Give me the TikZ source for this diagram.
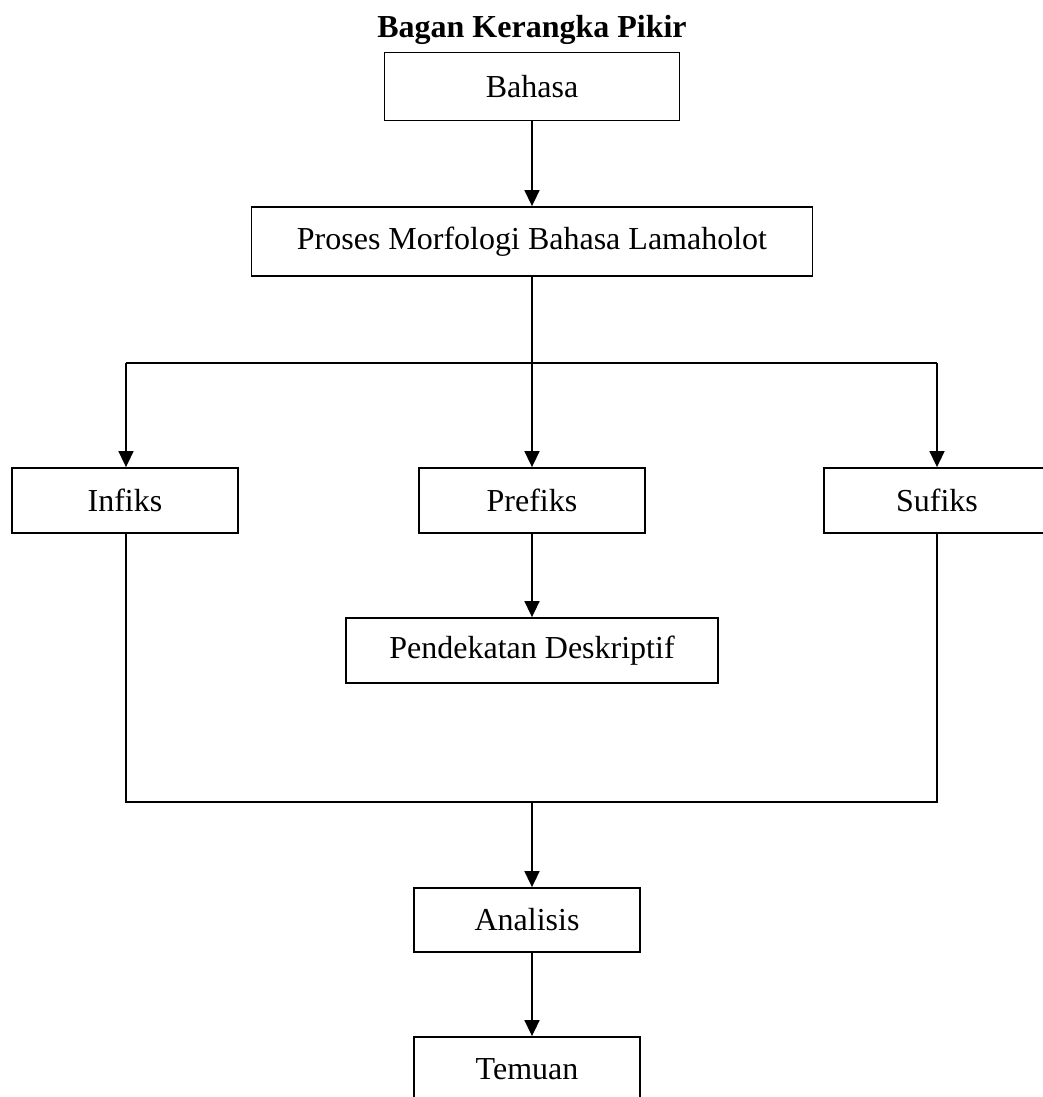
\documentclass[tikz,border=0pt]{standalone}
\usepackage{fontspec}
\setmainfont{Liberation Serif}
\usetikzlibrary{arrows.meta}
\begin{document}
\begin{tikzpicture}[x=1pt,y=-1pt,
  box/.style={draw, line width=1.8pt, inner sep=0pt, minimum width=#1, font=\fontsize{32}{38}\selectfont},
  box/.default=226pt,
  conn/.style={line width=1.6pt},
  arr/.style={conn, -{Triangle[length=16pt,width=15pt]}}]
\clip (0,0) rectangle (1043,1097);
\node[font=\bfseries\fontsize{32}{38}\selectfont, inner sep=0pt] (title) at (532,30) {Bagan Kerangka Pikir};
\node[box=295pt, minimum height=68pt] (bahasa) at (532,86.5) {Bahasa};
\node[box=561pt, minimum height=69pt] (proses) at (532,241.5) {Proses Morfologi Bahasa Lamaholot};
\node[box, minimum height=65pt] (infiks) at (125,500.5) {Infiks};
\node[box, minimum height=65pt] (prefiks) at (532,500.5) {Prefiks};
\node[box, minimum height=65pt] (sufiks) at (937,500.5) {Sufiks};
\node[box=372pt, minimum height=65pt] (pend) at (532,650.5) {Pendekatan Deskriptif};
\node[box, minimum height=64pt] (analisis) at (527,920) {Analisis};
\node[box, minimum height=64pt] (temuan) at (527,1069) {Temuan};
\coordinate (tl) at (126,363);
\coordinate (tr) at (937,363);
\coordinate (bl) at (126,802);
\coordinate (br) at (937,802);
\coordinate (bm) at (532,802);
\draw[arr] (bahasa.south) -- (proses.north);
\draw[arr] (proses.south) -- (prefiks.north);
\draw[conn] (tl) -- (tr);
\draw[arr] (tl) -- (tl |- infiks.north);
\draw[arr] (tr) -- (tr |- sufiks.north);
\draw[arr] (prefiks.south) -- (pend.north);
\draw[conn] (bl |- infiks.south) -- (bl) -- (br) -- (br |- sufiks.south);
\draw[arr] (bm) -- (bm |- analisis.north);
\draw[arr] (bm |- analisis.south) -- (bm |- temuan.north);
\end{tikzpicture}
\end{document}
